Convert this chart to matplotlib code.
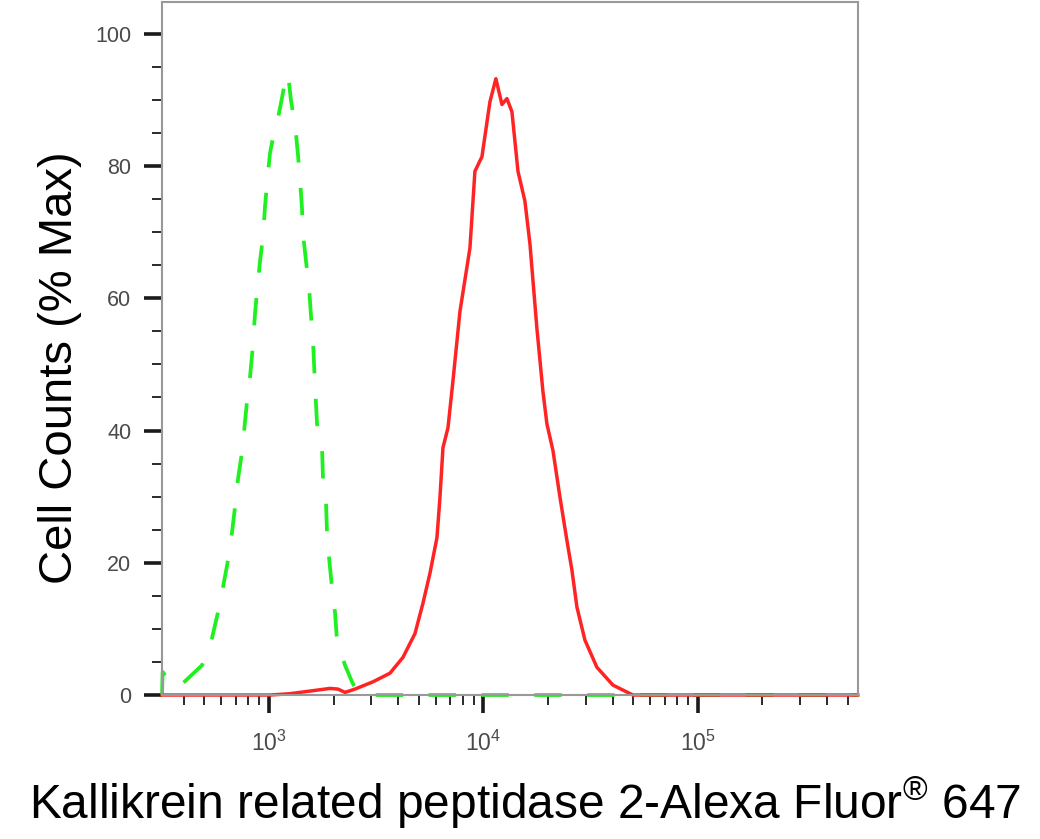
import numpy as np
import matplotlib
matplotlib.use("Agg")
import matplotlib.pyplot as plt
from matplotlib.ticker import LogLocator, MultipleLocator, FixedLocator

# isotype control (green dashed)
ctrl_x = [317, 319, 360, 397, 487, 542, 578, 610, 644, 672, 694, 717, 748, 790, 815,
          842, 860, 879, 908, 938, 958, 979, 1010, 1040, 1090, 1140, 1200, 1226, 1266,
          1322, 1365, 1395, 1425, 1440, 1488, 1536, 1570, 1604, 1638, 1675, 1767, 1786,
          1845, 1864, 1905, 1966, 2031, 2075, 2262, 2438, 2572, 2864, 557000]
ctrl_y = [0, 3.5, 1.2, 1.8, 4.5, 8.6, 12.5, 16.3, 20.4, 24.6, 28.4, 32.7, 36.7, 44.5, 48,
          53, 57.6, 61, 65.6, 69.4, 73.9, 77.4, 81.9, 84, 86.5, 89.7, 93.5, 94, 89.9,
          86.3, 81.7, 78, 73.6, 69.8, 65.6, 61.8, 57.3, 53.5, 47, 41, 37.3, 32.7,
          29, 24.6, 20.8, 16.3, 12.5, 8.3, 4.5, 2, 0.5, 0, 0]

# KLK2 stained sample (red)
klk_x = [317, 1011, 1253, 1553, 1924, 2097, 2262, 2518, 3053, 3665, 4215, 4795, 5225,
         5630, 6070, 6270, 6475, 6832, 7208, 7770, 8650, 9125, 9840, 10720, 11430,
         12200, 12870, 13580, 14490, 15610, 16480, 17750, 18930, 19770, 21090, 22750,
         24500, 25860, 27290, 29740, 33810, 40170, 49770, 557000]
klk_y = [0, 0, 0.2, 0.6, 1.0, 0.9, 0.4, 0.9, 2.0, 3.3, 5.7, 9.3, 13.9, 18.4, 23.8,
         29.9, 37.4, 40.4, 47.5, 58, 67.6, 79.2, 81.4, 89.7, 93.2, 89.3, 90.2, 88.2,
         79.2, 74.7, 68.2, 55.5, 46, 41, 37, 29.9, 23.4, 18.9, 13.3, 8.3, 4.2, 1.5, 0, 0]

plt.rcParams['font.family'] = ['Liberation Sans', 'DejaVu Sans']
plt.rcParams['mathtext.fontset'] = 'custom'
plt.rcParams['mathtext.rm'] = 'Liberation Sans'
plt.rcParams['mathtext.it'] = 'Liberation Sans'

fig = plt.figure(figsize=(10.4, 8.39), dpi=100)
ax = fig.add_axes([0.1558, 0.1716, 0.669, 0.826])

ax.plot(ctrl_x, ctrl_y, color='#1ff01f', lw=2.7, dashes=(7.3, 6.8), clip_on=False)
ax.plot(klk_x, klk_y, color='#ff2424', lw=2.5, clip_on=False)

ax.set_xscale('log')
ax.set_xlim(317, 557000)
ax.set_ylim(0, 104.8)

ax.xaxis.set_major_locator(FixedLocator([1e3, 1e4, 1e5]))
ax.xaxis.set_minor_locator(LogLocator(base=10, subs=np.arange(2, 10)))
ax.yaxis.set_major_locator(MultipleLocator(20))
ax.yaxis.set_minor_locator(MultipleLocator(5))

for s in ax.spines.values():
    s.set_color('#999999')
    s.set_linewidth(1.5)

ax.tick_params(which='major', direction='out', length=13, width=2.6, color='#1a1a1a',
               labelcolor='#4a4a4a')
ax.tick_params(axis='y', which='major', pad=9, labelsize=15.5)
ax.tick_params(axis='x', which='major', pad=13, labelsize=16.5)
ax.tick_params(which='minor', direction='out', length=7, width=1.4, color='#2a2a2a')

ax.set_ylabel('Cell Counts (% Max)', fontsize=34, color='black')
ax.yaxis.set_label_coords(-0.115, 0.473)
ax.set_xlabel('Kallikrein related peptidase 2-Alexa Fluor$^{\u00ae}$ 647', fontsize=34.5,
              color='black')
ax.xaxis.set_label_coords(0.522, -0.115)

fig.savefig('out.png', dpi=100)
